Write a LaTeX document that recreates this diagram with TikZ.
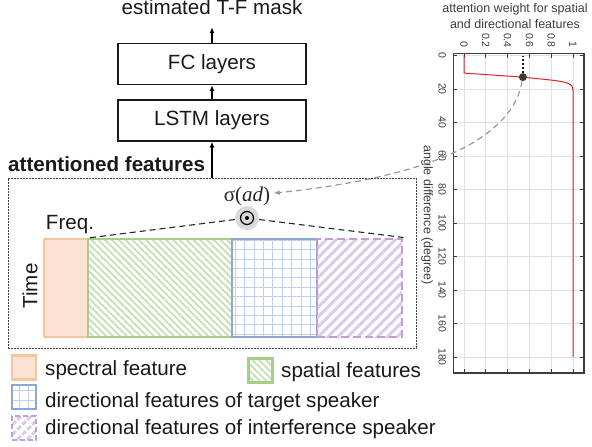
\documentclass[tikz,border=0pt]{standalone}
\usepackage{fontspec}
\setmainfont{Liberation Sans}
\newfontfamily\greekserif{Liberation Serif}
\usetikzlibrary{patterns.meta, arrows.meta}

\definecolor{specborder}{RGB}{247,196,160}
\definecolor{specfill}{RGB}{252,226,210}
\definecolor{spatborder}{RGB}{165,207,136}
\definecolor{spatstripe}{RGB}{196,224,178}
\definecolor{dirtborder}{RGB}{140,166,218}
\definecolor{dirtgrid}{RGB}{190,206,240}
\definecolor{diriborder}{RGB}{190,160,212}
\definecolor{diristripe}{RGB}{220,202,234}
\definecolor{curvered}{RGB}{228,35,40}
\definecolor{axisgray}{RGB}{60,60,60}

\tikzset{
	bigtext/.style = {font = \fontsize{20.6}{24}\selectfont, text = black!90},
	layerbox/.style = {bigtext, draw = black!90, line width = 1.2pt, minimum width = 188pt, minimum height = 41pt},
	featbox/.style = {line width = 2.8pt, inner sep = 0pt},
	spectral/.style = {featbox, draw = specborder, fill = specfill},
	spatial/.style = {featbox, draw = spatborder, pattern = {Lines[angle = -45, distance = 4.8pt, line width = 1.8pt]}, pattern color = spatstripe},
	target/.style = {featbox, draw = dirtborder, pattern = {Hatch[angle = 0, distance = 9.4pt, line width = 0.6pt]}, pattern color = dirtgrid},
	interf/.style = {featbox, draw = diriborder, dash pattern = on 8pt off 4pt, pattern = {Lines[angle = 45, distance = 7pt, line width = 3pt]}, pattern color = diristripe},
	plottext/.style = {font = \fontsize{12.5}{15.5}\selectfont, text = axisgray},
	ticktext/.style = {font = \fontsize{10.5}{12}\selectfont, text = axisgray, rotate = -90, inner sep = 1pt},
	gridline/.style = {black!12, line width = 0.8pt},
}

\begin{document}
\begin{tikzpicture}[> = {Latex[length = 6pt, width = 5pt]}, x = 1pt, y = -1pt]

	% Definitions
	
	\def\colx{212}		% Centre line of the network column
	\def\featy{288}		% Centre line of the feature blocks
	\def\feath{98}		% Height of the feature blocks
	\def\swatch{24}		% Size of a legend swatch
	
	\useasboundingbox (0, 0) rectangle (592, 447);
	
	% Network column
	
	\node (mask) [bigtext, anchor = base, inner sep = 0pt, text depth = 12pt] at (\colx, 15) {estimated T-F mask};
	\node (fc) [layerbox] at (\colx, 64) {FC layers};
	\node (lstm) [layerbox] at (\colx, 120.5) {LSTM layers};
	\node (attbox) [draw = black!75, line width = 0.6pt, dash pattern = on 2pt off 1pt, minimum width = 408pt, minimum height = 170pt] at (\colx, 263) {};
	\node (attn) [bigtext, anchor = base west, inner sep = 0pt] at (8, 171) {\bfseries attentioned features};
	
	\draw [->, line width = 1.2pt] (attbox.north) -- (lstm.south);
	\draw [->, line width = 1.2pt] (lstm) -- (fc);
	\draw [->, line width = 1.2pt] (fc) -- (mask.south);
	
	% Feature blocks
	
	\node (spec) [spectral, minimum width = 44pt, minimum height = \feath pt] at (66, \featy) {};
	\node (spat) [spatial, minimum width = 144pt, minimum height = \feath pt] at (160, \featy) {};
	\node (dirt) [target, minimum width = 85pt, minimum height = \feath pt] at (274.5, \featy) {};
	\node (diri) [interf, minimum width = 85pt, minimum height = \feath pt] at (359.5, \featy) {};
	
	\node (freq) [bigtext, anchor = base] at (70, 229) {Freq.};
	\node (time) [bigtext, rotate = 90] at (30, 286) {Time};
	
	% Weighting by the attention
	
	\node (prod) [circle, fill = black!15, minimum size = 24pt, inner sep = 0pt] at (247, 218) {};
	\draw [line width = 1.2pt] (prod.center) circle (6.5pt);
	\fill (prod.center) circle (2pt);
	
	\draw [black!85, line width = 1.1pt, dash pattern = on 6pt off 4pt] (prod) -- (spat.north west);
	\draw [black!85, line width = 1.1pt, dash pattern = on 6pt off 4pt] (prod) -- (diri.north east);
	
	\node (sigma) [font = \greekserif\fontsize{21}{24}\selectfont, text = black!85, anchor = base] at (247, 201) {σ(\textit{ad})};
	
	% Legend
	
	\node (lgspec) [spectral, minimum size = \swatch pt] at (24, 367.5) {};
	\node (lgspat) [spatial, minimum size = \swatch pt] at (260.5, 370.5) {};
	\node (lgdirt) [target, minimum size = \swatch pt] at (24, 397) {};
	\node (lgdiri) [interf, dash pattern = on 5pt off 3pt, minimum size = \swatch pt] at (24, 428) {};
	
	\node (txspec) [bigtext, anchor = base west, inner sep = 0pt] at (45, 375) {spectral feature};
	\node (txspat) [bigtext, anchor = base west, inner sep = 0pt] at (281, 377) {spatial features};
	\node (txdirt) [bigtext, anchor = base west, inner sep = 0pt] at (45, 407) {directional features of target speaker};
	\node (txdiri) [bigtext, anchor = base west, inner sep = 0pt] at (45, 434) {directional features of interference speaker};
	
	% Attention weight plot (weight across, angle difference down)
	
	\begin{scope}[shift = {(464, 55.5)}, x = 109pt, y = -1.675pt]
	
		\foreach \w in {0, 0.2, 0.4, 0.6, 0.8, 1}
			\draw [gridline] (\w, -1) -- (\w, 189.5);
		\foreach \a in {0, 20, ..., 180}
			\draw [gridline] (-0.1, \a) -- (1.1, \a);
		
		\foreach \w [count = \k] in {0, 0.2, 0.4, 0.6, 0.8, 1} {
			\draw [axisgray, line width = 1pt] (\w, -1) -- ++(0, -4pt);
			\draw [axisgray, line width = 1pt] (\w, 189.5) -- ++(0, 4pt);
			\node (wlabel\k) [ticktext, anchor = east] at (\w, -4) {\w};
		}
		\foreach \a in {0, 20, ..., 180} {
			\draw [axisgray, line width = 1pt] (-0.1, \a) -- ++(4pt, 0);
			\draw [axisgray, line width = 1pt] (1.1, \a) -- ++(-4pt, 0);
			\node (alabel\a) [ticktext] at (-0.2, \a) {\a};
		}
		
		\draw [axisgray, line width = 1.2pt] (-0.1, -1) rectangle (1.1, 189.5);
		
		\draw [curvered, line width = 1pt] (0, 0) -- (0, 10.5) -- (0.54, 12.9) -- (0.79, 14.6) .. controls (0.97, 16) and (1, 17) .. (1, 21) -- (1, 180);
		
		\coordinate (dottop) at (0.54, 0);
		\node (dot) [circle, fill = axisgray, inner sep = 0pt, minimum size = 8pt] at (0.54, 12.9) {};
		\draw [black!90, line width = 2.2pt, dash pattern = on 2pt off 2pt] (dot) -- (dottop);
	
	\end{scope}
	
	\node (ptitle) [plottext, align = center] at (515, 16) {attention weight for spatial\\and directional features};
	\node (ylabel) [plottext, rotate = -90] at (427, 215) {angle difference (degree)};
	
	% Weight fed back to the sigma node
	
	\draw [->, black!40, line width = 1.2pt, dash pattern = on 6pt off 4pt] (dot) .. controls (510, 150) and (400, 180) .. (sigma);

\end{tikzpicture}
\end{document}
